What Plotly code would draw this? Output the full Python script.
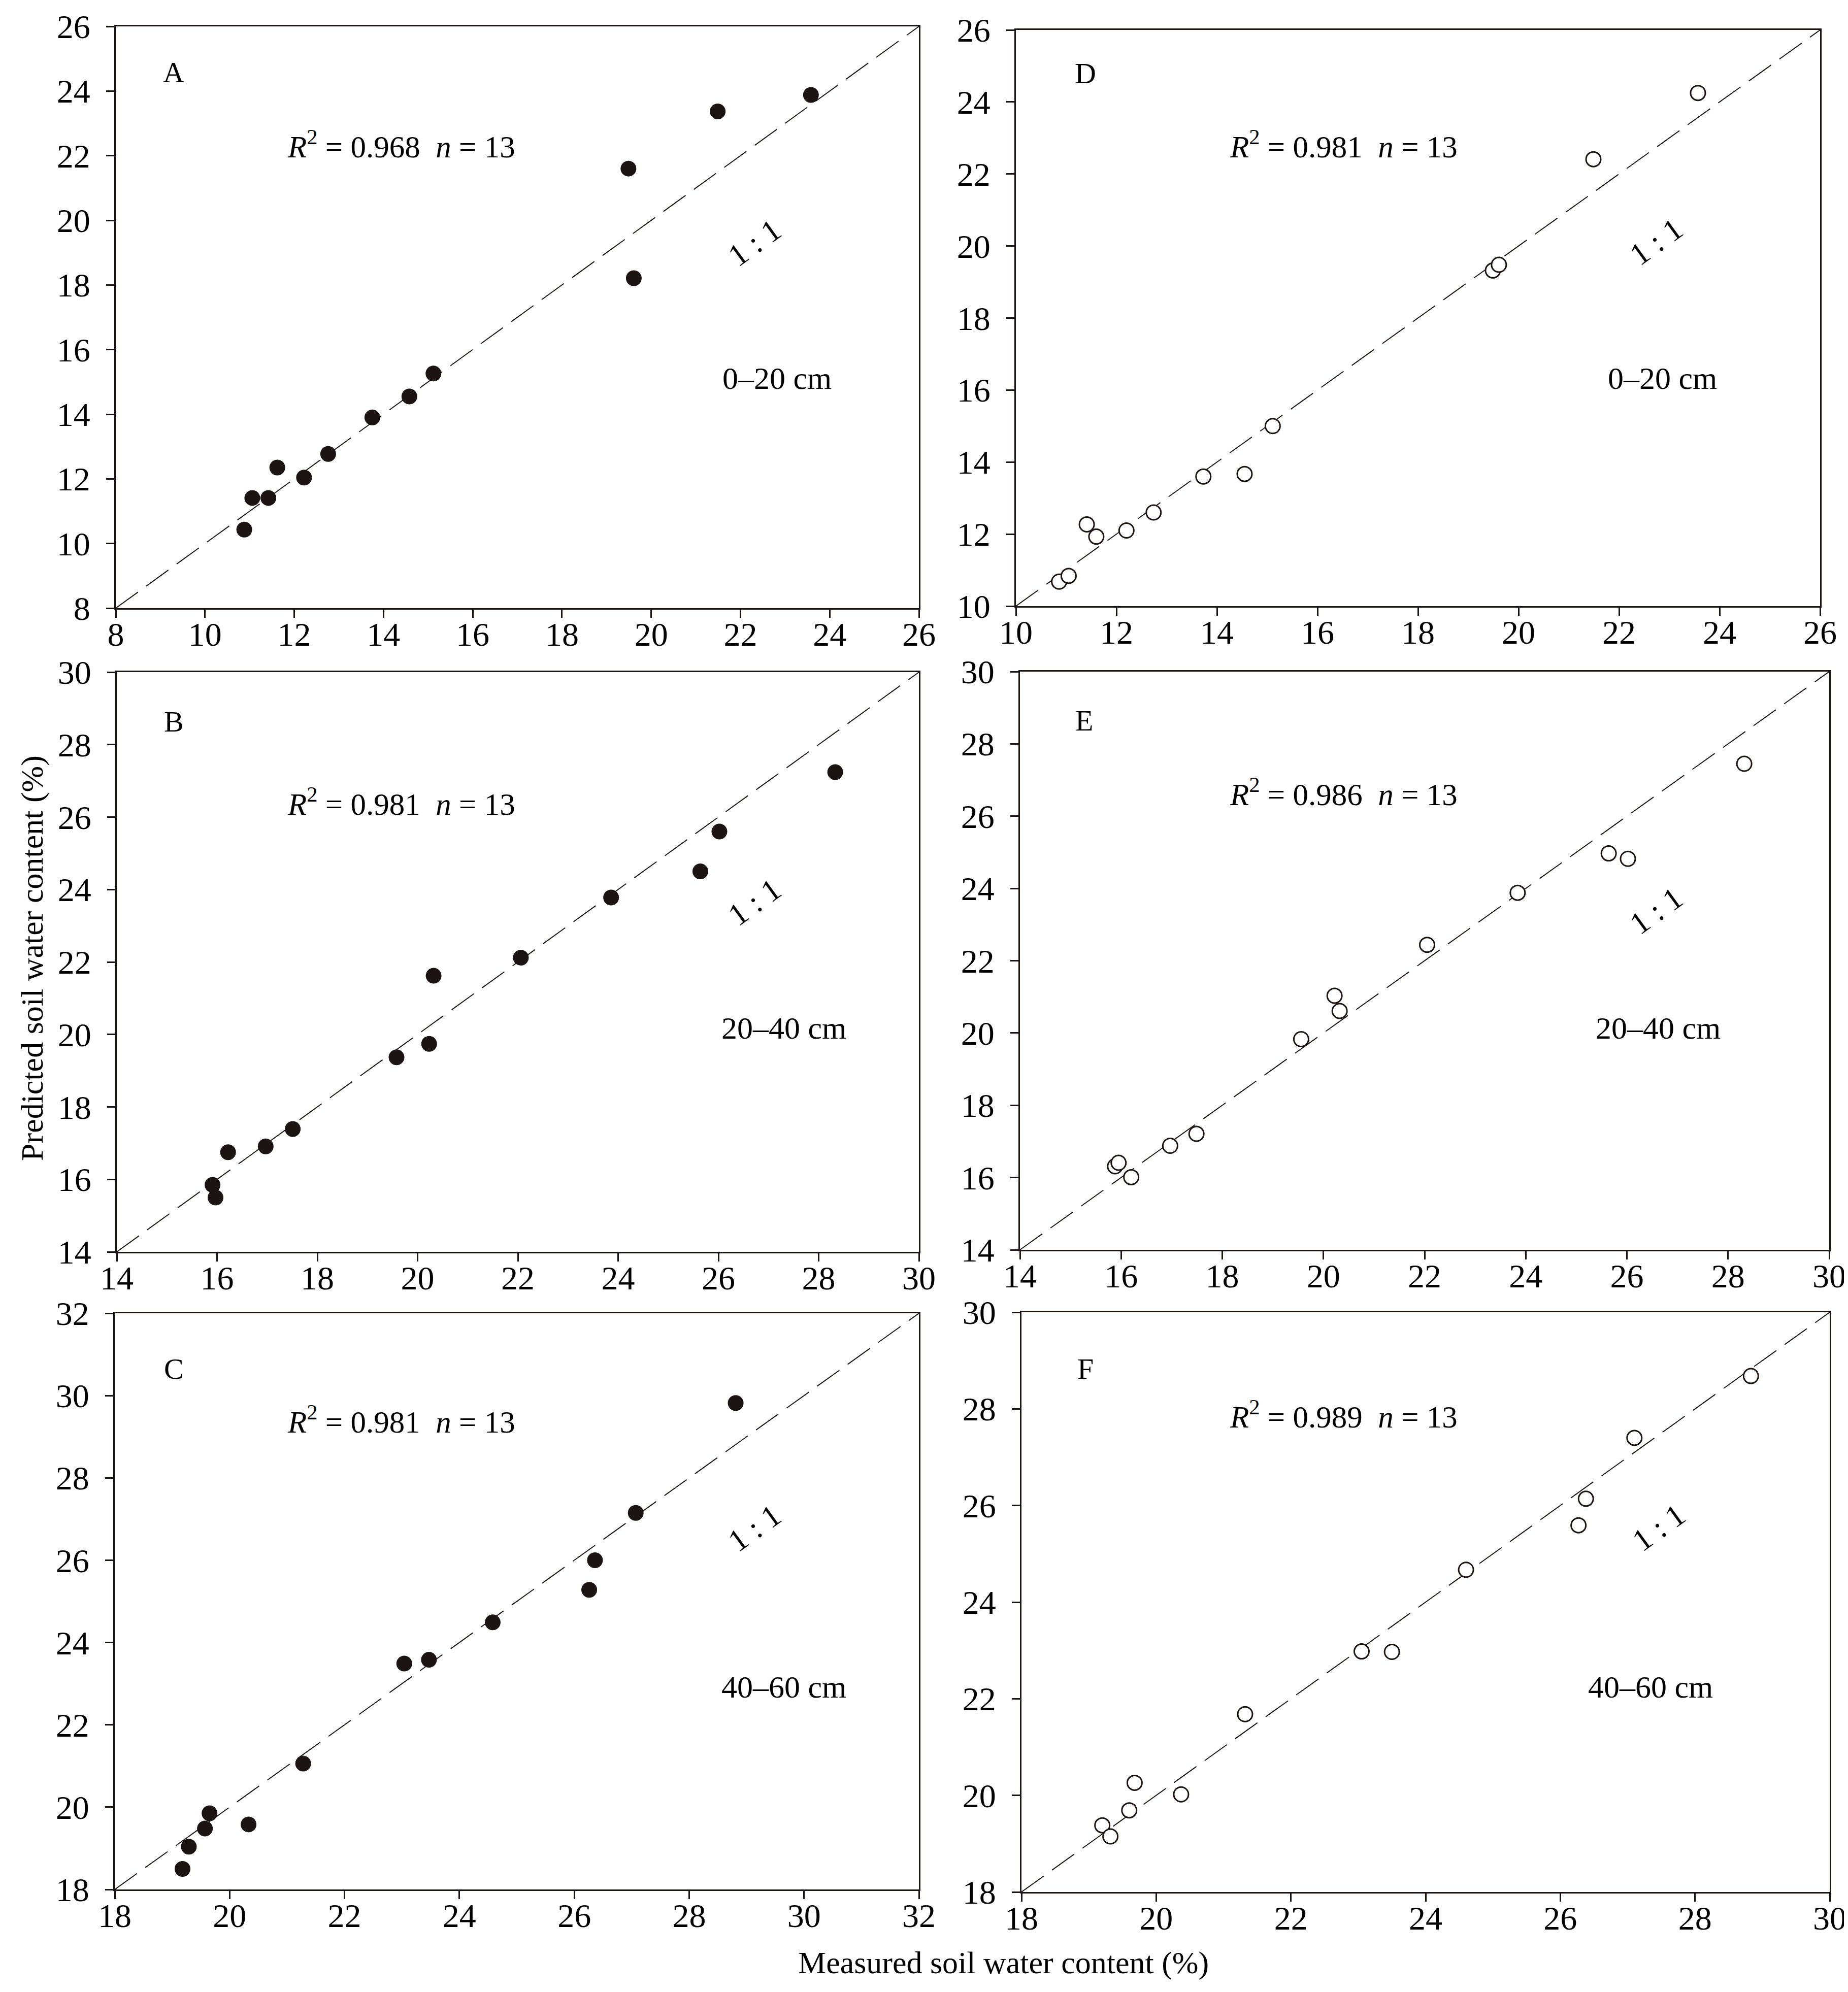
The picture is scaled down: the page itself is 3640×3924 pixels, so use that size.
import plotly.graph_objects as go

W, H = 3640, 3924
INK = "#1c1412"
FONT = "Liberation Serif"

# ---------------- data ----------------
a_x = [10.88, 11.06, 11.42, 11.62, 12.22, 12.76, 13.75, 14.58, 15.12, 19.49, 19.61, 21.49, 23.58]
a_y = [10.43, 11.41, 11.41, 12.35, 12.04, 12.77, 13.90, 14.55, 15.26, 21.60, 18.21, 23.37, 23.88]

d_x = [10.86, 11.05, 11.41, 11.60, 12.20, 12.74, 13.73, 14.55, 15.11, 19.49, 19.61, 21.49, 23.57]
d_y = [10.68, 10.84, 12.27, 11.93, 12.10, 12.60, 13.60, 13.67, 15.00, 19.32, 19.48, 22.41, 24.25]

b_x = [15.91, 15.97, 16.22, 16.97, 17.51, 19.58, 20.23, 20.32, 22.06, 23.86, 25.64, 26.02, 28.33]
b_y = [15.85, 15.50, 16.75, 16.91, 17.39, 19.37, 19.74, 21.62, 22.12, 23.78, 24.50, 25.60, 27.24]

e_x = [15.88, 15.95, 16.20, 16.97, 17.49, 19.56, 20.22, 20.32, 22.05, 23.84, 25.64, 26.02, 28.32]
e_y = [16.31, 16.41, 16.01, 16.88, 17.21, 19.83, 21.03, 20.61, 22.44, 23.88, 24.97, 24.82, 27.45]

c_x = [19.18, 19.29, 19.57, 19.65, 20.33, 21.28, 23.04, 23.47, 24.58, 26.26, 26.36, 27.07, 28.81]
c_y = [18.50, 19.04, 19.48, 19.85, 19.58, 21.06, 23.49, 23.58, 24.49, 25.28, 26.00, 27.15, 29.82]

f_x = [19.20, 19.32, 19.60, 19.68, 20.37, 21.32, 23.05, 23.50, 24.60, 26.27, 26.38, 27.10, 28.83]
f_y = [19.38, 19.15, 19.69, 20.26, 20.02, 21.68, 22.98, 22.97, 24.67, 25.59, 26.14, 27.40, 28.68]

panel_letters = ["A", "B", "C", "D", "E", "F"]
r2_values = ["0.968", "0.981", "0.981", "0.981", "0.986", "0.989"]
n_values = [13, 13, 13, 13, 13, 13]
depths = ["0–20 cm", "20–40 cm", "40–60 cm", "0–20 cm", "20–40 cm", "40–60 cm"]
ranges = [(8, 26), (14, 30), (18, 32), (10, 26), (14, 30), (18, 30)]
x_title = "Measured soil water content (%)"
y_title = "Predicted soil water content (%)"

series = [(a_x, a_y, True), (b_x, b_y, True), (c_x, c_y, True),
          (d_x, d_y, False), (e_x, e_y, False), (f_x, f_y, False)]

# ---------------- layout geometry (pixels in the figure) ----------------
# left, right, top, bottom of each plotting box
boxes = [
    (220, 1802, 44, 1190),
    (222, 1802, 1316, 2458),
    (218, 1802, 2579, 3714),
    (1993, 3577, 51, 1186),
    (2001, 3595, 1315, 2454),
    (2004, 3596, 2577, 3719),
]
# annotation anchors (pixels): letter, r2, 1:1, depth
letter_pos = [(334, 135), (334, 1413), (334, 2688), (2130, 136), (2127, 1412), (2130, 2688)]
r2_pos = [(782, 277), (782, 1571), (782, 2788), (2638, 277), (2638, 1553), (2638, 2778)]
one_pos = [(1478, 470), (1478, 1769), (1478, 3002), (3254, 468), (3254, 1786), (3259, 3001)]
depth_pos = [(1522, 737), (1536, 2017), (1536, 3315), (3266, 737), (3258, 2017), (3243, 3315)]


def px(x):
    return x / W


def py(y):
    return 1 - y / H


fig = go.Figure()
layout = {}
annotations = []


def note(x, y, text, size, angle=0):
    return dict(x=px(x), y=py(y), xref="paper", yref="paper", text=text,
                showarrow=False, xanchor="center", yanchor="middle",
                textangle=angle, font=dict(family=FONT, size=size, color="black"))


for i in range(6):
    k = "" if i == 0 else str(i + 1)
    xs, ys, filled = series[i]
    lo, hi = ranges[i]
    l, r, t, b = boxes[i]

    # 1:1 line
    fig.add_trace(go.Scatter(
        x=[lo, hi], y=[lo, hi], mode="lines",
        line=dict(color=INK, width=2, dash="54px,20px"),
        xaxis="x" + k, yaxis="y" + k, showlegend=False, hoverinfo="skip"))

    if filled:
        marker = dict(size=31, color=INK, line=dict(width=0))
    else:
        marker = dict(size=29, color="white", line=dict(width=3, color=INK))
    fig.add_trace(go.Scatter(
        x=xs, y=ys, mode="markers", marker=marker,
        xaxis="x" + k, yaxis="y" + k, showlegend=False))

    common = dict(
        range=[lo, hi], dtick=2, tick0=lo, ticks="outside", ticklen=16,
        tickwidth=3, tickcolor=INK, showline=True, linecolor=INK, linewidth=3,
        mirror=True, showgrid=False, zeroline=False, automargin=False,
        tickfont=dict(family=FONT, size=66, color="black"),
    )
    layout["xaxis" + k] = dict(common, domain=[px(l), px(r)], anchor="y" + k,
                               ticklabelstandoff=-24)
    layout["yaxis" + k] = dict(common, domain=[py(b), py(t)], anchor="x" + k,
                               ticklabelstandoff=18)

    annotations.append(note(*letter_pos[i], panel_letters[i], 58))
    annotations.append(note(
        *r2_pos[i],
        "<i>R</i><sup>2</sup>\u00a0= " + r2_values[i] + "\u00a0\u00a0<i>n</i>\u00a0= " + str(n_values[i]),
        61))
    annotations.append(note(*one_pos[i], "1\u00a0:\u00a01", 62, -36))
    annotations.append(note(*depth_pos[i], depths[i], 62))

annotations.append(note(1969, 3858, x_title, 62))
annotations.append(note(55, 1880, y_title, 62, -90))

fig.update_layout(
    width=W, height=H,
    margin=dict(l=0, r=0, t=0, b=0, autoexpand=False),
    paper_bgcolor="white", plot_bgcolor="white",
    annotations=annotations,
    **layout,
)

fig.write_html("out.html")
